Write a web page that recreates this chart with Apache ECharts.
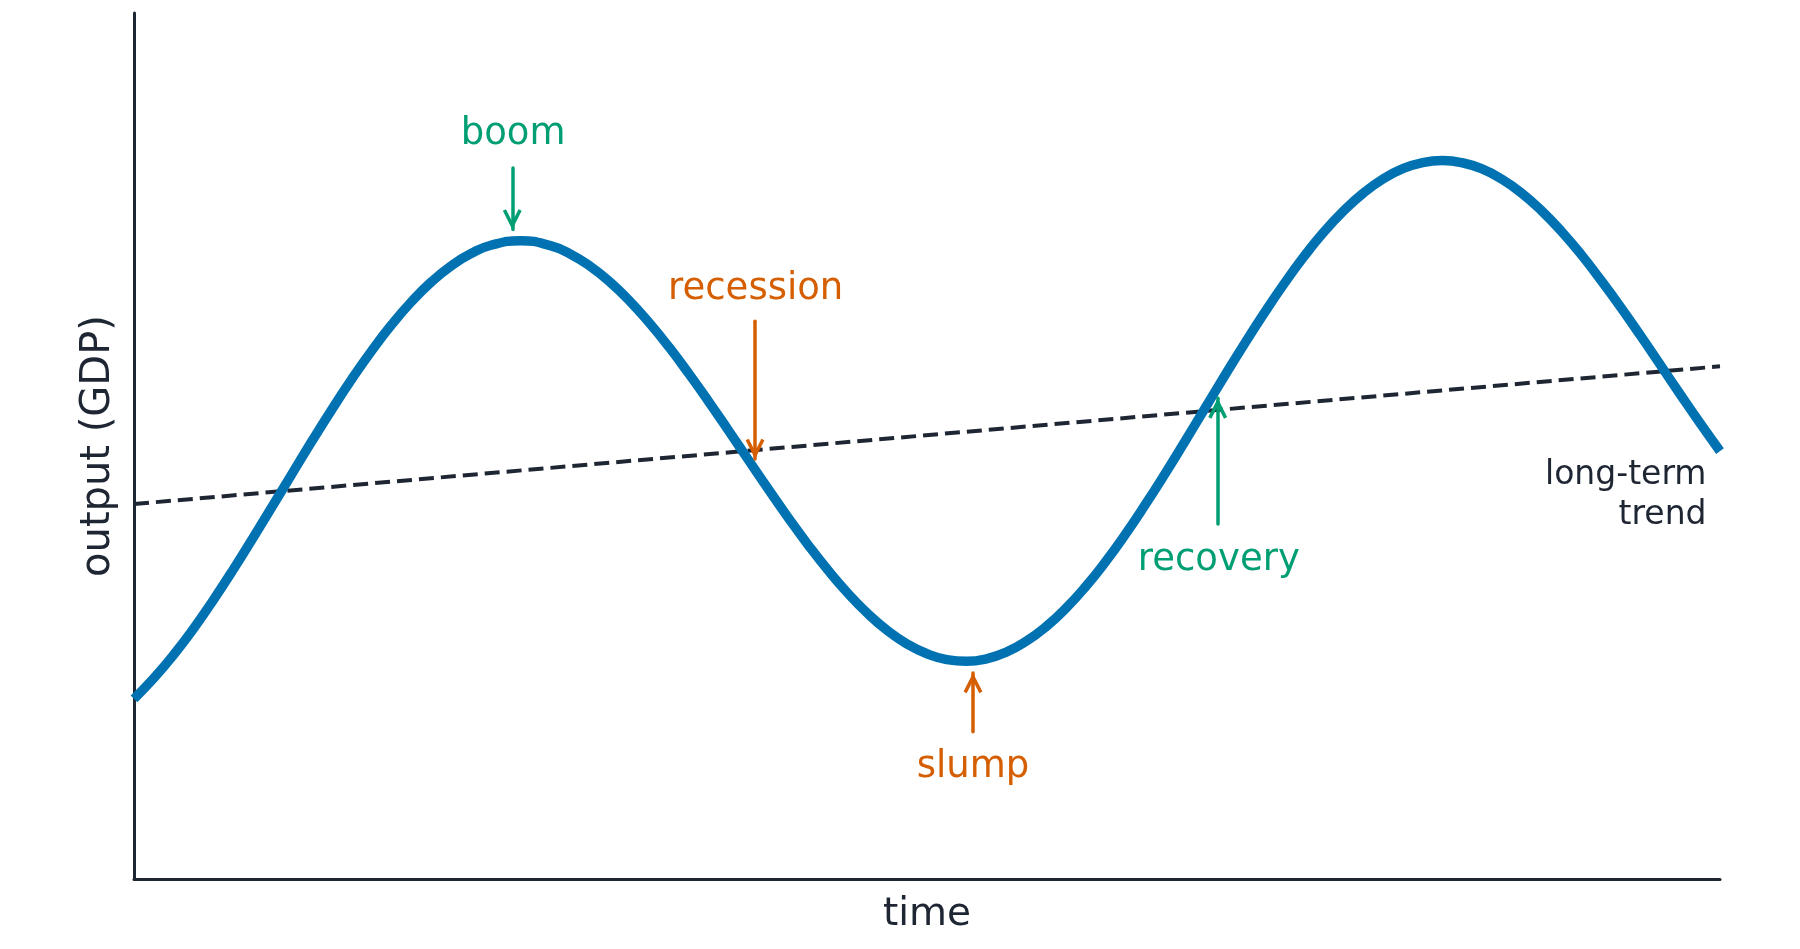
<!DOCTYPE html>
<html>
<head>
<meta charset="utf-8">
<script src="https://cdn.jsdelivr.net/npm/echarts@6/dist/echarts.min.js"></script>
<style>
html,body{margin:0;padding:0;background:#fff;}
#chart{width:1800px;height:949px;}
</style>
</head>
<body>
<div id="chart"></div>
<script>
// ---- data ----
const timeValues = [0,0.125,0.25,0.375,0.5,0.625,0.75,0.875,1,1.125,1.25,1.375,1.5,1.625,1.75,1.875,2,2.125,2.25,2.4375,2.625,2.75,2.875,3,3.125,3.25,3.375,3.5,3.625,3.75,3.875,4,4.125,4.25,4.375,4.5,4.625,4.75,4.875,5,5.125,5.25,5.375,5.5,5.625,5.75,5.875,6,6.125,6.25,6.375,6.5,6.625,6.75,6.875,7,7.125,7.25,7.375,7.5,7.625,7.75,7.875,8,8.125,8.25,8.375,8.5,8.625,8.75,8.875,9,9.125,9.25,9.375,9.5,9.625,9.75,9.875,10];
const outputValues = [2.081,2.319,2.589,2.890,3.221,3.571,3.938,4.312,4.690,5.066,5.429,5.778,6.103,6.402,6.667,6.895,7.081,7.222,7.318,7.370,7.314,7.218,7.078,6.895,6.675,6.420,6.138,5.831,5.509,5.175,4.836,4.500,4.172,3.859,3.567,3.301,3.067,2.870,2.713,2.601,2.533,2.513,2.542,2.619,2.744,2.913,3.125,3.376,3.662,3.978,4.319,4.677,5.049,5.427,5.805,6.175,6.531,6.869,7.183,7.466,7.711,7.919,8.083,8.202,8.273,8.296,8.271,8.199,8.080,7.919,7.717,7.479,7.210,6.912,6.600,6.271,5.934,5.595,5.262,4.941];
const trendX = [0, 10];
const trendY = [4.33, 5.92];

// annotations: label text, label position, arrow start, arrow tip
const annLabels = ['boom', 'recession', 'slump', 'recovery'];
const annLabelX = [2.39, 3.92, 5.29, 6.84];
const annLabelY = [8.60, 6.81, 1.29, 3.68];
const annArrowFromX = [2.385, 3.916, 5.290, 6.833];
const annArrowFromY = [8.21, 6.44, 1.70, 4.10];
const annArrowToX = [2.385, 3.916, 5.290, 6.833];
const annArrowToY = [7.50, 4.85, 2.38, 5.55];
const annColorKey = ['up', 'down', 'down', 'up'];

const trendLabel = 'long-term\ntrend';
const trendLabelX = 9.915;
const trendLabelY = 4.43;

const xTitle = 'time';
const yTitle = 'output (GDP)';

// ---- styles ----
const GREEN = '#009E73', ORANGE = '#D55E00', BLUE = '#0072B2', DARK = '#1f2633';
const FONT = 'DejaVu Sans';
// open chevron arrow head, tip at symbol center
const CHEVRON = 'path://M10,-1.8L10,-1.75Z M0.6,37.2L10,18.5L19.4,37.2L16.3,38.8L10,26.3L3.7,38.8Z';

const colorOf = k => k === 'up' ? GREEN : ORANGE;

const curveData = timeValues.map((t, i) => [t, outputValues[i]]);
const trendData = trendX.map((t, i) => [t, trendY[i]]);

const arrowLines = annLabels.map((_, i) => [
  {coord: [annArrowFromX[i], annArrowFromY[i]], lineStyle: {color: colorOf(annColorKey[i]), width: 3.5, type: 'solid', cap: 'round'}, itemStyle: {color: colorOf(annColorKey[i])}},
  {coord: [annArrowToX[i], annArrowToY[i]], itemStyle: {color: colorOf(annColorKey[i])}}
]);

const labelData = annLabels.map((txt, i) => ({
  value: [annLabelX[i], annLabelY[i]],
  name: txt,
  label: {color: colorOf(annColorKey[i])}
}));

const chart = echarts.init(document.getElementById('chart'), null, {renderer: 'canvas'});
chart.setOption({
  animation: false,
  backgroundColor: '#ffffff',
  grid: {left: 134, right: 80, top: 13, bottom: 70, containLabel: false},
  xAxis: {
    type: 'value', min: 0, max: 10,
    name: xTitle, nameLocation: 'middle', nameGap: 16,
    nameTextStyle: {fontFamily: FONT, fontSize: 39, color: DARK},
    axisLine: {show: true, onZero: false, lineStyle: {color: DARK, width: 3}},
    axisTick: {show: false}, axisLabel: {show: false}, splitLine: {show: false}
  },
  yAxis: {
    type: 'value', min: 0, max: 10,
    name: yTitle, nameLocation: 'middle', nameGap: 15,
    nameTextStyle: {fontFamily: FONT, fontSize: 40, color: DARK},
    axisLine: {show: true, onZero: false, lineStyle: {color: DARK, width: 3}},
    axisTick: {show: false}, axisLabel: {show: false}, splitLine: {show: false}
  },
  series: [
    {
      type: 'line', name: 'trend', data: trendData, showSymbol: false, symbol: 'none',
      lineStyle: {color: DARK, width: 4, type: [15, 7]}, z: 2
    },
    {
      type: 'line', name: 'output', data: curveData, smooth: true, showSymbol: false, symbol: 'none',
      lineStyle: {color: BLUE, width: 9.5, cap: 'butt'}, z: 3
    },
    {
      type: 'line', name: 'arrows', data: [], z: 4,
      markLine: {
        silent: true, animation: false,
        symbol: ['none', CHEVRON], symbolSize: [18.8, 40.6],
        label: {show: false}, emphasis: {disabled: true},
        data: arrowLines
      }
    },
    {
      type: 'scatter', name: 'labels', data: labelData, symbolSize: 0,
      itemStyle: {color: 'rgba(0,0,0,0)'}, z: 5, silent: true,
      label: {show: true, position: [0, 0], formatter: p => p.name,
        fontFamily: FONT, fontSize: 37, align: 'center', verticalAlign: 'middle',
        textBorderWidth: 0, opacity: 1}
    },
    {
      type: 'scatter', name: 'trendLabel', data: [{value: [trendLabelX, trendLabelY], name: trendLabel}], symbolSize: 0,
      itemStyle: {color: 'rgba(0,0,0,0)'}, z: 5, silent: true,
      label: {show: true, position: [0, 0], formatter: p => p.name,
        fontFamily: FONT, fontSize: 33, lineHeight: 40, color: DARK, align: 'right', verticalAlign: 'middle',
        textBorderWidth: 0, opacity: 1}
    }
  ]
});
</script>
</body>
</html>
